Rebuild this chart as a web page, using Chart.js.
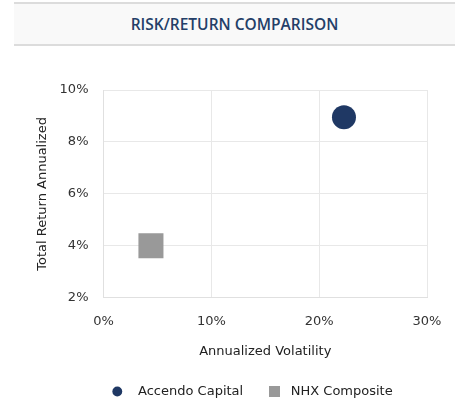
<!DOCTYPE html>
<html>
<head>
<meta charset="utf-8">
<script src="https://cdn.jsdelivr.net/npm/chart.js@4"></script>
<style>
  html, body { margin: 0; padding: 0; background: #fff; }
  #wrap { position: relative; width: 460px; height: 400px; }
  #banner {
    position: absolute; left: 14px; top: 2px; width: 441px; height: 40px;
    background: #f9f9f9; border-top: 2px solid #dcdcdc; border-bottom: 2px solid #dcdcdc;
    font-family: "Open Sans", sans-serif; font-weight: 600; font-size: 15.5px;
    color: #243f68; text-align: center; line-height: 40px;
  }
  canvas { position: absolute; left: 0; top: 0; }
</style>
</head>
<body>
<div id="wrap">
  <div id="banner">RISK/RETURN COMPARISON</div>
  <canvas id="riskChart" width="460" height="400"></canvas>
</div>
<script>
// シリーズ名と値 (ボラティリティ %, リターン %)
const seriesNames = ['Accendo Capital', 'NHX Composite'];
const volatility = [22.3, 4.4];
const totalReturn = [8.95, 4.0];
const seriesColors = ['#1f3864', '#999999'];
const seriesShapes = ['circle', 'rect'];
const seriesRadius = [12, 17.7];

// 軸の目盛り
const xTicks = [0, 10, 20, 30];
const yTicks = [2, 4, 6, 8, 10];

const datasets = seriesNames.map((name, i) => ({
    label: name,
    data: [{ x: volatility[i], y: totalReturn[i] }],
    backgroundColor: seriesColors[i],
    borderColor: seriesColors[i],
    borderWidth: 0,
    pointStyle: seriesShapes[i],
    pointRadius: seriesRadius[i],
    pointHoverRadius: seriesRadius[i]
}));

// 凡例の四角マーク (円と同じくらいの大きさにする)
const legendSquare = document.createElement('canvas');
legendSquare.width = 11;
legendSquare.height = 11;
const sq = legendSquare.getContext('2d');
sq.fillStyle = seriesColors[1];
sq.fillRect(0, 0, 11, 11);

const tickFont = { family: '"DejaVu Sans", Verdana, sans-serif', size: 13 };

// 凡例を右へずらす
const legendShift = {
    id: 'legendShift',
    afterLayout(chart) {
        chart.legend.left += 21;
        chart.legend.right += 21;
    }
};

const config = {
    type: 'scatter',
    data: { datasets },
    plugins: [legendShift],
    options: {
        responsive: false,
        animation: false,
        layout: { padding: { top: 90, left: 35, right: 33, bottom: -8 } },
        plugins: {
            legend: {
                position: 'bottom',
                labels: {
                    usePointStyle: true,
                    boxWidth: 12,
                    boxHeight: 7,
                    padding: 25,
                    color: '#222',
                    font: tickFont,
                    // 記号と文字の間を少し広げる
                    generateLabels: (chart) => Chart.defaults.plugins.legend.labels.generateLabels(chart)
                        .map((item, i) => Object.assign(item, {
                            text: (i === 0 ? '  ' : ' ') + item.text,
                            pointStyle: i === 1 ? legendSquare : item.pointStyle
                        }))
                }
            },
            tooltip: { enabled: false }
        },
        scales: {
            x: {
                type: 'linear',
                min: xTicks[0],
                max: xTicks[xTicks.length - 1],
                afterBuildTicks: (axis) => { axis.ticks = xTicks.map(v => ({ value: v })); },
                ticks: { color: '#333', font: tickFont, padding: 16, callback: v => v + '%' },
                grid: { color: '#e8e8e8', drawTicks: false },
                border: { color: '#e0e0e0' },
                title: {
                    display: true, text: 'Annualized Volatility',
                    color: '#222', font: tickFont, padding: { top: -2, bottom: 1 }
                }
            },
            y: {
                type: 'linear',
                min: yTicks[0],
                max: yTicks[yTicks.length - 1],
                afterBuildTicks: (axis) => { axis.ticks = yTicks.map(v => ({ value: v })); },
                ticks: { color: '#333', font: tickFont, padding: 15, callback: v => v + '%' },
                grid: { color: '#e8e8e8', drawTicks: false },
                border: { color: '#e0e0e0' },
                title: {
                    display: true, text: 'Total Return Annualized',
                    color: '#222', font: tickFont, padding: { top: 0, bottom: -6 }
                }
            }
        }
    }
};

window.addEventListener('load', () => {
    const ctx = document.getElementById('riskChart').getContext('2d');
    new Chart(ctx, config);
});
</script>
</body>
</html>
